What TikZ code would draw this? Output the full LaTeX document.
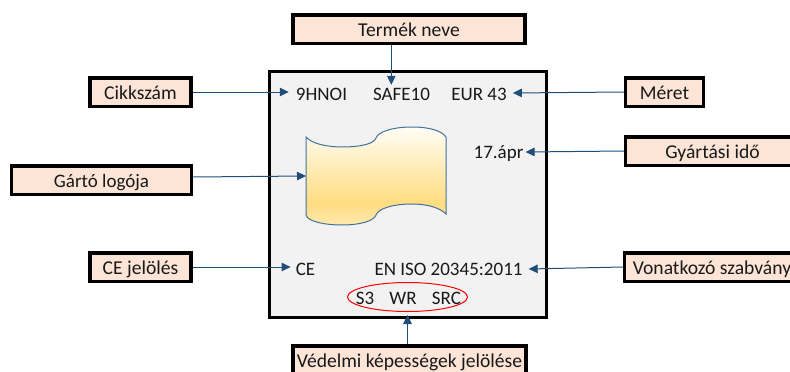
\documentclass[tikz,border=0pt]{standalone}
\usepackage{fontspec}
\setmainfont{Carlito}
\usetikzlibrary{arrows.meta,shapes.geometric}
\definecolor{arrowblue}{HTML}{1F4E79}
\definecolor{boxfill}{HTML}{FCE4D6}
\definecolor{panel}{HTML}{F2F2F2}
\definecolor{wavedge}{HTML}{41719C}
\definecolor{wavegold}{HTML}{FFDC80}
\definecolor{wavelow}{HTML}{FFE9B0}
\definecolor{wavetop}{HTML}{FFFDF5}
\pgfdeclareverticalshading{waveshade}{100bp}{color(0bp)=(wavelow);color(25bp)=(wavelow);color(36bp)=(wavegold);color(75bp)=(wavetop);color(100bp)=(wavetop)}
\tikzset{
  lab/.style={draw=black,line width=3.5pt,fill=boxfill,inner sep=0pt,minimum height=28.5pt,text height=15pt,text depth=0pt,font=\fontsize{19.6}{21}\selectfont,text=black!90},
  txt/.style={inner xsep=0pt,inner ysep=0pt,text height=12pt,text depth=0pt,font=\fontsize{19}{21}\selectfont,anchor=base,text=black!90},
  conn/.style={arrowblue,line width=1pt,-{Triangle[length=9pt,width=8.5pt]}}
}
\begin{document}
\begin{tikzpicture}[x=1pt,y=-1pt]
\useasboundingbox (0,0) rectangle (790,372);
\node[draw=black,line width=3.5pt,fill=panel,minimum width=277pt,minimum height=246pt,inner sep=0pt] (main) at (408,194.5) {};
% boxes
\node[lab,minimum width=101pt] (cikk) at (140.5,92) {Cikkszám};
\node[lab,minimum width=180pt,font=\fontsize{19}{21}\selectfont] (logo) at (101.5,180) {Gártó logója};
\node[lab,minimum width=101pt] (ce) at (140.5,267) {CE jelölés};
\node[lab,minimum width=232pt] (termek) at (409,29) {Termék neve};
\node[lab,minimum width=78pt] (meret) at (664.5,92) {Méret};
\node[lab,minimum width=174pt] (gyart) at (712.5,151) {Gyártási idő};
\node[lab,minimum width=175pt] (szab) at (712,267) {Vonatkozó szabvány};
\node[lab,minimum width=233pt] (vedelmi) at (409.5,360) {Védelmi képességek jelölése};
% label texts
\node[txt,inner xsep=7pt] (hnoi) at (321.5,100) {9HNOI};
\node[txt] (safe) at (401.5,100) {SAFE10};
\node[txt,inner xsep=6pt] (eur) at (479,100) {EUR 43};
\node[txt,inner xsep=2pt] (date) at (498.5,158) {17.ápr};
\node[txt,inner xsep=5pt] (cetxt) at (305.5,275) {CE};
\node[txt,inner xsep=6pt] (iso) at (448.5,275) {EN ISO 20345:2011};
\node[draw=red,line width=1pt,ellipse,minimum width=120pt,minimum height=29pt,inner sep=0pt] (ell) at (407.5,297) {};
\node[txt] (s3) at (365,304) {S3};
\node[txt] (wr) at (403,304) {WR};
\node[txt] (src) at (446.5,304) {SRC};
% logo shape
\path[shade,shading=waveshade,draw=wavedge,line width=1pt]
  (306,137) .. controls (312,144) and (328,147) .. (342,147)
  .. controls (360,147) and (374,144) .. (376,138)
  .. controls (378,132) and (392,127) .. (412,127)
  .. controls (430,127) and (442,131) .. (446,137)
  -- (446,214)
  .. controls (440,208) and (428,204) .. (412,204)
  .. controls (392,204) and (378,209) .. (376,215)
  .. controls (374,221) and (360,225) .. (342,225)
  .. controls (326,225) and (308,222) .. (306,215)
  -- cycle;
\coordinate (logopt) at (306,176);
% connectors
\draw[conn] (cikk.east) -- ([yshift=2pt]hnoi.west);
\draw[conn] ([yshift=3pt]logo.east) -- (logopt);
\draw[conn] (ce.east) -- ([yshift=2pt]cetxt.west);
\draw[conn] ([xshift=-17.7pt]termek.south) -- ([xshift=-10.2pt,yshift=3pt]safe.north);
\draw[conn] (meret.west) -- ([yshift=1pt]eur.east);
\draw[conn] (gyart.west) -- (date.east);
\draw[conn] (szab.west) -- (iso.east);
\draw[conn] ([xshift=-2pt]vedelmi.north) -- ([yshift=-3pt]ell.south);
\end{tikzpicture}
\end{document}
